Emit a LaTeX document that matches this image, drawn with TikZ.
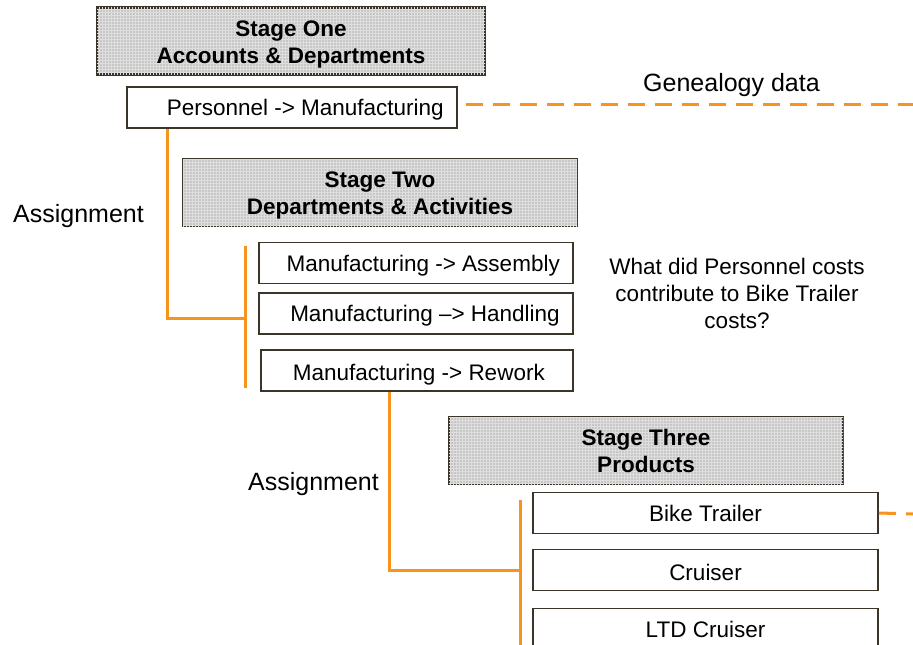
\documentclass[tikz,border=0pt]{standalone}
\usepackage{fontspec}
\setmainfont{Liberation Sans}
\usetikzlibrary{patterns}
\definecolor{orng}{HTML}{F7941D}
\definecolor{edge}{HTML}{3A3528}
\begin{document}
\begin{tikzpicture}[x=1pt,y=-1pt,
  header/.style={draw=edge, line width=2.2pt, fill=black!22,
    postaction={pattern=grid, pattern color=black!13},
    minimum width=#1, minimum height=67pt, inner sep=0pt},
  itembox/.style={draw=edge, line width=1.8pt, fill=white,
    minimum width=#1, minimum height=41pt, inner sep=0pt},
  lbl/.style={font=\fontsize{22.5}{27}\selectfont, inner sep=0pt,
    text height=16pt, text depth=0pt},
  hlbl/.style={lbl, font=\fontsize{22.5}{27}\selectfont\bfseries},
  biglbl/.style={lbl, font=\fontsize{25}{30}\selectfont, text height=18pt},
  conn/.style={draw=orng, line width=3pt},
  dconn/.style={draw=orng, line width=3pt, dash pattern=on 17pt off 10pt}]
\useasboundingbox (0,0) rectangle (913,645);

% Stage one
\node[header=388pt] (h1) at (291,41) {};
\node[hlbl] (h1a) at (291,28) {Stage One};
\node[hlbl] (h1b) at (291,55) {Accounts \& Departments};
\node[itembox=330pt] (p1) at (292,107.5) {};
\node[lbl, anchor=east] (p1t) at (444,107) {Personnel -> Manufacturing};
\node[biglbl] (gen) at (731.5,82) {Genealogy data};
\coordinate (genend) at (913,104);
\draw[dconn] (466,104) -- (genend);

% Stage two
\node[header=394pt] (h2) at (380,192.5) {};
\node[hlbl] (h2a) at (380,179) {Stage Two};
\node[hlbl] (h2b) at (380,206) {Departments \& Activities};
\node[itembox=314pt] (m1) at (416,263) {};
\node[lbl, anchor=east] (m1t) at (560,263) {Manufacturing -> Assembly};
\node[itembox=314pt] (m2) at (416,313.5) {};
\node[lbl, anchor=east] (m2t) at (560,313) {Manufacturing --> Handling};
\node[itembox=312pt] (m3) at (417,370.5) {};
\node[lbl, anchor=east] (m3t) at (545,372) {Manufacturing -> Rework};
\node[biglbl, anchor=west] (as1) at (13,213) {Assignment};
\coordinate (b1top) at (245,246);
\coordinate (b1bot) at (245,388);
\coordinate (b1mid) at (245,318);
\draw[conn] (b1top) -- (b1bot);
\draw[conn] (p1.south -| 167,0) -- (167,318) -- (b1mid);

\node[lbl] (q1) at (737,266) {What did Personnel costs};
\node[lbl] (q2) at (737,293) {contribute to Bike Trailer};
\node[lbl] (q3) at (737,320) {costs?};

% Stage three
\node[header=394pt] (h3) at (646,450.5) {};
\node[hlbl] (h3a) at (646,437) {Stage Three};
\node[hlbl] (h3b) at (646,464) {Products};
\node[itembox=345pt] (b) at (705.5,513) {};
\node[lbl] (bt) at (705.5,513) {Bike Trailer};
\node[itembox=345pt] (c) at (705.5,570) {};
\node[lbl] (ct) at (705.5,572) {Cruiser};
\node[itembox=345pt] (l) at (705.5,629) {};
\node[lbl] (lt) at (705.5,629) {LTD Cruiser};
\node[biglbl, anchor=west] (as2) at (248,481) {Assignment};
\coordinate (b2top) at (520,500);
\coordinate (b2bot) at (520,645);
\coordinate (b2mid) at (520,570);
\draw[conn] (b2top) -- (b2bot);
\draw[conn] (m3.south -| 389,0) -- (389,570) -- (b2mid);
\coordinate (btend) at (913,514);
\draw[dconn] (b.east) -- (btend);
\end{tikzpicture}
\end{document}
